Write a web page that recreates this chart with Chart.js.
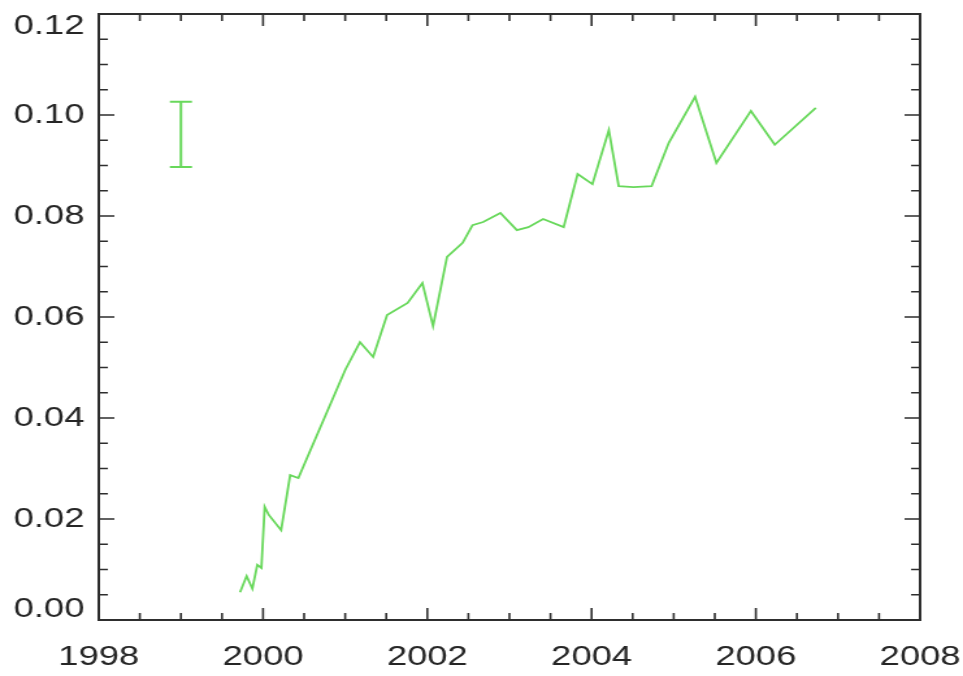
<!DOCTYPE html>
<html>
<head>
<meta charset="utf-8">
<script src="https://cdn.jsdelivr.net/npm/chart.js@4/dist/chart.umd.min.js"></script>
<style>
  html, body { margin: 0; padding: 0; background: #fff; overflow: hidden; }
  /* plot drawn on a narrower canvas and widened to the page */
  #wrap { width: 741px; height: 676px; transform: scaleX(1.2996); transform-origin: 0 0; }
</style>
</head>
<body>
<div id="wrap"><canvas id="c" width="741" height="676"></canvas></div>
<script>
// Time series (decimal year) and measured value
const years = [
  1999.72, 1999.80, 1999.87, 1999.93, 1999.98, 2000.02, 2000.07, 2000.22, 2000.33, 2000.43,
  2001.00, 2001.18, 2001.34, 2001.51, 2001.76, 2001.94, 2002.07, 2002.24, 2002.43, 2002.55,
  2002.68, 2002.89, 2003.09, 2003.23, 2003.41, 2003.66, 2003.83, 2004.01, 2004.21, 2004.33,
  2004.51, 2004.73, 2004.94, 2005.26, 2005.52, 2005.94, 2006.23, 2006.73
];
const values = [
  0.0055, 0.0087, 0.0062, 0.0109, 0.0103, 0.0224, 0.0208, 0.0178, 0.0287, 0.0281,
  0.0495, 0.0550, 0.0521, 0.0604, 0.0628, 0.0667, 0.0582, 0.0719, 0.0747, 0.0782,
  0.0788, 0.0806, 0.0772, 0.0778, 0.0794, 0.0778, 0.0883, 0.0863, 0.0970, 0.0859,
  0.0857, 0.0859, 0.0945, 0.1036, 0.0905, 0.1008, 0.0941, 0.1014
];

// Typical uncertainty bar
const errYear = [1999.0];
const errLow = [0.0897];
const errHigh = [0.1026];

// Axis ticks
const xTickValues = [1998, 2000, 2002, 2004, 2006, 2008];
const xTickLabels = ['1998', '2000', '2002', '2004', '2006', '2008'];
const yTickValues = [0, 0.02, 0.04, 0.06, 0.08, 0.10, 0.12];
const yTickLabels = ['0.00', '0.02', '0.04', '0.06', '0.08', '0.10', '0.12'];

const LINE_GREEN = '#68d85b';
const AXIS = '#2e2e2e';
const X_MINOR = 0.5;
const Y_MINOR = 0.005;

const framePlugin = {
  id: 'idlFrame',
  afterDraw(chart) {
    const { ctx, chartArea: a, scales: { x, y } } = chart;
    ctx.save();

    // error bar
    ctx.strokeStyle = LINE_GREEN;
    ctx.lineWidth = 2;
    errYear.forEach((yr, i) => {
      const px = x.getPixelForValue(yr);
      const p0 = y.getPixelForValue(errLow[i]);
      const p1 = y.getPixelForValue(errHigh[i]);
      ctx.beginPath();
      ctx.moveTo(px, p0); ctx.lineTo(px, p1);
      ctx.moveTo(px - 8.5, p0); ctx.lineTo(px + 8.5, p0);
      ctx.moveTo(px - 8.5, p1); ctx.lineTo(px + 8.5, p1);
      ctx.stroke();
    });

    // box
    ctx.strokeStyle = AXIS;
    ctx.lineWidth = 2;
    ctx.strokeRect(a.left, a.top, a.right - a.left, a.bottom - a.top);

    // inward ticks on all four sides
    const isMajor = (v, list) => list.some(t => Math.abs(t - v) < 1e-6);
    ctx.lineWidth = 1.6;
    ctx.beginPath();
    for (let v = x.min + X_MINOR; v < x.max - 1e-6; v += X_MINOR) {
      const px = x.getPixelForValue(v);
      const len = isMajor(v, xTickValues) ? 12 : 7;
      ctx.moveTo(px, a.bottom); ctx.lineTo(px, a.bottom - len);
      ctx.moveTo(px, a.top); ctx.lineTo(px, a.top + len);
    }
    for (let v = y.min + Y_MINOR; v < y.max - 1e-6; v += Y_MINOR) {
      const py = y.getPixelForValue(v);
      const len = isMajor(v, yTickValues) ? 12 : 7;
      ctx.moveTo(a.left, py); ctx.lineTo(a.left + len, py);
      ctx.moveTo(a.right, py); ctx.lineTo(a.right - len, py);
    }
    ctx.stroke();

    // tick labels
    ctx.fillStyle = '#262626';
    ctx.font = '28px "Liberation Sans", Arial, sans-serif';
    ctx.textAlign = 'right';
    ctx.textBaseline = 'middle';
    yTickValues.forEach((v, i) => {
      let py = y.getPixelForValue(v);
      if (i === 0) py -= 11;
      if (i === yTickValues.length - 1) py += 12;
      ctx.fillText(yTickLabels[i], a.left - 11, py);
    });
    ctx.textAlign = 'center';
    xTickValues.forEach((v, i) => {
      ctx.fillText(xTickLabels[i], x.getPixelForValue(v), a.bottom + 37);
    });

    ctx.restore();
  }
};

new Chart(document.getElementById('c'), {
  type: 'scatter',
  data: {
    datasets: [{
      data: years.map((yr, i) => ({ x: yr, y: values[i] })),
      showLine: true,
      borderColor: LINE_GREEN,
      borderWidth: 1.8,
      pointRadius: 0,
      tension: 0
    }]
  },
  options: {
    responsive: false,
    animation: false,
    devicePixelRatio: 1,
    layout: { padding: { left: 76, right: 33, top: 14, bottom: 56 } },
    plugins: { legend: { display: false }, tooltip: { enabled: false } },
    scales: {
      x: { type: 'linear', min: 1998, max: 2008, display: false },
      y: { type: 'linear', min: 0, max: 0.12, display: false }
    }
  },
  plugins: [framePlugin]
});
</script>
</body>
</html>
